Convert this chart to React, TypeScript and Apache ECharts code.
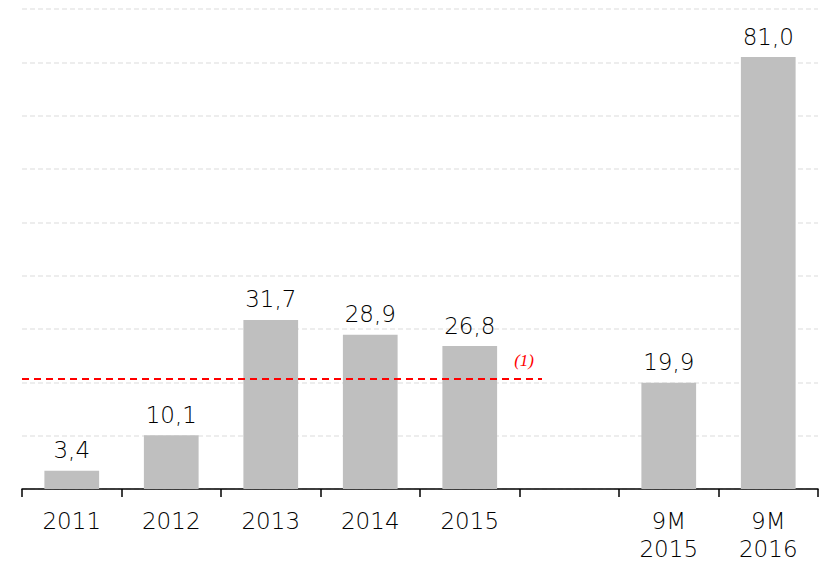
import React, { useEffect, useRef } from "react";
import * as echarts from "echarts";

const categories = ["2011", "2012", "2013", "2014", "2015", "", "9M\n2015", "9M\n2016"];
const values: (number | string)[] = [3.4, 10.1, 31.7, 28.9, 26.8, "-", 19.9, 81.0];
const referenceValue = 20.6;
const referenceLabel = "(1)";
const yMax = 90;
const yInterval = 10;

const FONT = "DejaVu Sans";

export default function App() {
  const ref = useRef<HTMLDivElement>(null);
  useEffect(() => {
    if (!ref.current) return;
    const chart = echarts.init(ref.current, null, { renderer: "svg" });
    chart.setOption({
      animation: false,
      grid: { left: 22, right: 3, top: 9, bottom: 71 },
      xAxis: {
        type: "category",
        data: categories,
        axisLine: { lineStyle: { color: "#000", width: 1.5 } },
        axisTick: { show: true, length: 8, lineStyle: { color: "#000", width: 1.5 } },
        axisLabel: {
          color: "#000",
          fontFamily: FONT,
          fontSize: 23,
          fontWeight: 200,
          margin: 18,
          lineHeight: 28,
        },
      },
      yAxis: {
        type: "value",
        min: 0,
        max: yMax,
        interval: yInterval,
        axisLabel: { show: false },
        axisLine: { show: false },
        axisTick: { show: false },
        splitLine: { lineStyle: { color: "#EDEDED", width: 2, type: [5, 3] } },
      },
      series: [
        {
          type: "bar",
          data: values,
          barWidth: "55%",
          itemStyle: { color: "#BFBFBF" },
          label: {
            show: true,
            position: "top",
            distance: 9,
            color: "#000",
            fontFamily: FONT,
            fontSize: 23,
            fontWeight: 200,
            formatter: (p: any) => Number(p.value).toFixed(1).replace(".", ","),
          },
          markLine: {
            symbol: "none",
            silent: true,
            lineStyle: { color: "#FF0000", width: 2, type: [7, 5] },
            label: {
              show: true,
              position: "insideEndTop",
              formatter: referenceLabel,
              color: "#FF0000",
              fontStyle: "italic",
              fontFamily: "Liberation Serif",
              fontSize: 17,
              distance: [8, 10],
            },
            data: [
              [
                { x: 22, yAxis: referenceValue },
                { x: 542, yAxis: referenceValue },
              ],
            ],
          },
        },
      ],
    });
    return () => chart.dispose();
  }, []);
  return (
    <div
      ref={ref}
      style={{ position: "fixed", left: 0, top: 0, width: 821, height: 563, background: "#fff" }}
    />
  );
}
